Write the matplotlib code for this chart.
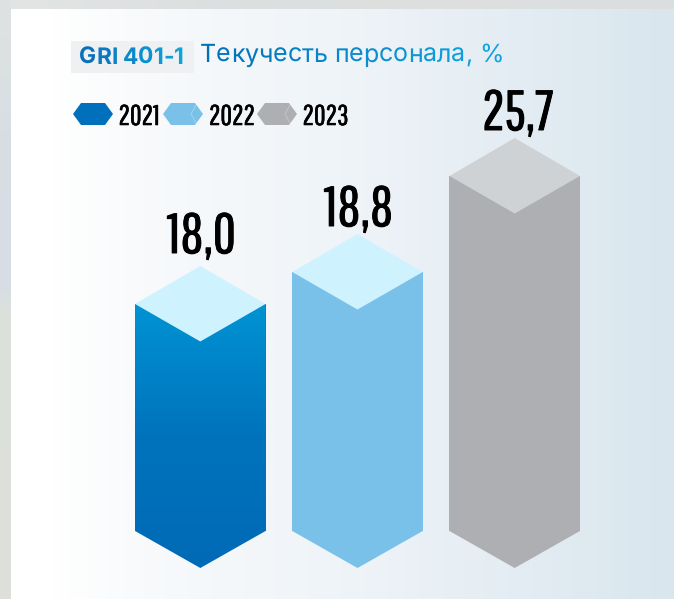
import numpy as np
import matplotlib
matplotlib.use('Agg')
import matplotlib.pyplot as plt
import matplotlib.patheffects as pe
from matplotlib.colors import LinearSegmentedColormap, to_rgb
from matplotlib.patches import Polygon, Rectangle

# ---- data ----
years = ['2021', '2022', '2023']
values = [18.0, 18.8, 25.7]
value_labels = ['18,0', '18,8', '25,7']
badge_text = 'GRI 401-1'
title_text = 'Текучесть персонала, %'
bar_colors = ['#0078c0', '#7ac1e9', '#aeafb3']
cap_colors = ['#cff2ff', '#cff2ff', '#cfd2d5']

W, H = 674, 599
NARROW = ['Pathway Gothic One', 'BenchNine', 'Liberation Sans Narrow', 'DejaVu Sans']
SANS = ['Inter', 'Roboto', 'DejaVu Sans']
plt.rcParams['text.hinting'] = 'none'
plt.rcParams['text.hinting_factor'] = 1

fig = plt.figure(figsize=(W / 100, H / 100), dpi=100)
fig.patch.set_facecolor('#dde0df')

def px_axes(z):
    a = fig.add_axes([0, 0, 1, 1], zorder=z)
    a.set_xlim(0, W); a.set_ylim(H, 0); a.axis('off'); a.patch.set_alpha(0)
    return a

bg = px_axes(0)
top = px_axes(2)

# ---- background ----
xs = np.linspace(0, 1, W)
knots_x = [0, .06, .2, .5, .75, 1]
knots_c = np.array([to_rgb(c) for c in ['#ffffff', '#ffffff', '#f8fafc', '#eff4f8', '#e4edf3', '#d9e6ee']])
grad = np.stack([np.interp(xs, knots_x, knots_c[:, i]) for i in range(3)], axis=-1)[None, :, :]
bg.imshow(grad, extent=(11, W, H, 9), aspect='auto', zorder=1)
ys = np.linspace(0, 1, H)
side_k = [0, .25, .47, .52, .75, 1]
side_c = np.array([to_rgb(c) for c in ['#dfe2e1', '#d7dee3', '#d6dde6', '#dce1dc', '#dce0da', '#dcdfdb']])
side = np.stack([np.interp(ys, side_k, side_c[:, i]) for i in range(3)], axis=-1)[:, None, :]
bg.imshow(side, extent=(0, 11, H, 0), aspect='auto', zorder=1)
top_c = np.array([to_rgb(c) for c in ['#e2e5e4', '#dcdfdf', '#dee0df', '#dadedf']])
strip = np.stack([np.interp(xs, [0, .33, .66, 1], top_c[:, i]) for i in range(3)], axis=-1)[None, :, :]
bg.imshow(strip, extent=(11, W, 9, 0), aspect='auto', zorder=1)
bg.set_xlim(0, W); bg.set_ylim(H, 0)

# ---- chart axes: the source's bar heights are not linear in the value ----
base_px, top_px = 531.0, 176.0
scale_v = [0, 18.0, 18.8, 25.7]
scale_h = [0, 227.0, 259.0, 355.0]
def fwd(v):
    return np.interp(v, scale_v, scale_h)
def inv(h):
    return np.interp(h, scale_h, scale_v)
ax = fig.add_axes([0, 1 - base_px / H, 1, (base_px - top_px) / H], zorder=1)
ax.patch.set_alpha(0)
ax.set_yscale('function', functions=(fwd, inv))
ax.set_ylim(0, 25.7)
c0, step = 200.3, 157.2
ax.set_xlim((0 - c0) / step, (W - c0) / step)
ax.axis('off')
bars = ax.bar(range(3), values, width=0.83, color=bar_colors, linewidth=0)

def to_px(x, y):
    p = ax.transData.transform((x, y))
    return p[0], H - p[1]

def gradient_text(a, x, y, s, fs, c0_, c1_, **kw):
    """Real text, one glyph at a time, coloured along the run."""
    r = fig.canvas.get_renderer()
    probe = a.text(0, 0, s, fontsize=fs, **kw)
    total = probe.get_window_extent(r).width
    probe.remove()
    c0_, c1_ = np.array(to_rgb(c0_)), np.array(to_rgb(c1_))
    for i, ch in enumerate(s):
        if i:
            p = a.text(0, 0, s[:i + 1], fontsize=fs, **kw)
            q = a.text(0, 0, ch, fontsize=fs, **kw)
            off = p.get_window_extent(r).width - q.get_window_extent(r).width
            p.remove(); q.remove()
        else:
            off = 0
        t = min(1, off / total)
        a.text(x + off, y, ch, fontsize=fs, color=tuple(c0_ + (c1_ - c0_) * t), va='baseline', ha='left', **kw)
    return total

half = 38
tip = 37
label_gap = [13, 8, 8]
for i, b in enumerate(bars):
    x0, x1 = b.get_x(), b.get_x() + b.get_width()
    xl, yt = to_px(x0, b.get_height())
    xr, yb = to_px(x1, 0)
    xc = (xl + xr) / 2
    tip_pts = [(xl, yb), (xr, yb), (xc, yb + tip)]
    if i == 0:
        body = Polygon([(xl, yt), (xr, yt), (xr, yb), (xc, yb + tip), (xl, yb)], transform=top.transData,
                       fc='none', ec='none')
        top.add_patch(body)
        cm = LinearSegmentedColormap.from_list('b', ['#0093d3', '#0073bd', '#006ab6'])
        im = top.imshow(np.linspace(0, 1, 256)[:, None], cmap=cm, extent=(xl, xr, yb + tip, yt),
                        aspect='auto', zorder=2)
        im.set_clip_path(body)
    else:
        top.add_patch(Polygon(tip_pts, fc=bar_colors[i], ec='none', zorder=2))
    top.add_patch(Polygon([(xl, yt), (xc, yt - half), (xr, yt), (xc, yt + half - 0.5)],
                          fc=cap_colors[i], ec='none', zorder=3))
    t = top.text(xc + 3 if i == 2 else xc + 1, yt - half - label_gap[i], value_labels[i], fontsize=40.5, family=NARROW,
                 ha='center', va='baseline', color='black', zorder=4)
    t.set_path_effects([pe.withStroke(linewidth=0.7, foreground='black')])
top.set_xlim(0, W); top.set_ylim(H, 0)

# ---- heading ----
top.add_patch(Rectangle((71, 41), 123, 32, fc='#eef0f2', ec='none', zorder=1))
gradient_text(top, 79, 63.5, badge_text, 16.4, '#0a70b8', '#0fa8e0', family=SANS, fontweight='bold', zorder=4)
gradient_text(top, 200, 62, title_text, 18.0, '#0070b9', '#12a8e2', family=SANS, zorder=4)

# ---- legend ----
leg_x = [73, 163, 257]
txt_x = [118.5, 209, 302.5]
leg_c = ['#006fbc', '#7ac1e9', '#aeafb3']
for i, y in enumerate(years):
    x = leg_x[i]
    top.add_patch(Polygon([(x, 114), (x + 8, 103), (x + 32, 103), (x + 40, 114), (x + 32, 125), (x + 8, 125)],
                          fc=leg_c[i], ec='none', zorder=3))
    if i:
        top.plot([x + 33, x + 28, x + 33], [105, 114, 123], color='white', alpha=.25, lw=.8, zorder=4)
    t = top.text(txt_x[i], 125, y, fontsize=20.5, family=NARROW, ha='left', va='baseline', color='black', zorder=4)
    t.set_path_effects([pe.withStroke(linewidth=0.4, foreground='black')])

fig.savefig('out.png', dpi=100)
